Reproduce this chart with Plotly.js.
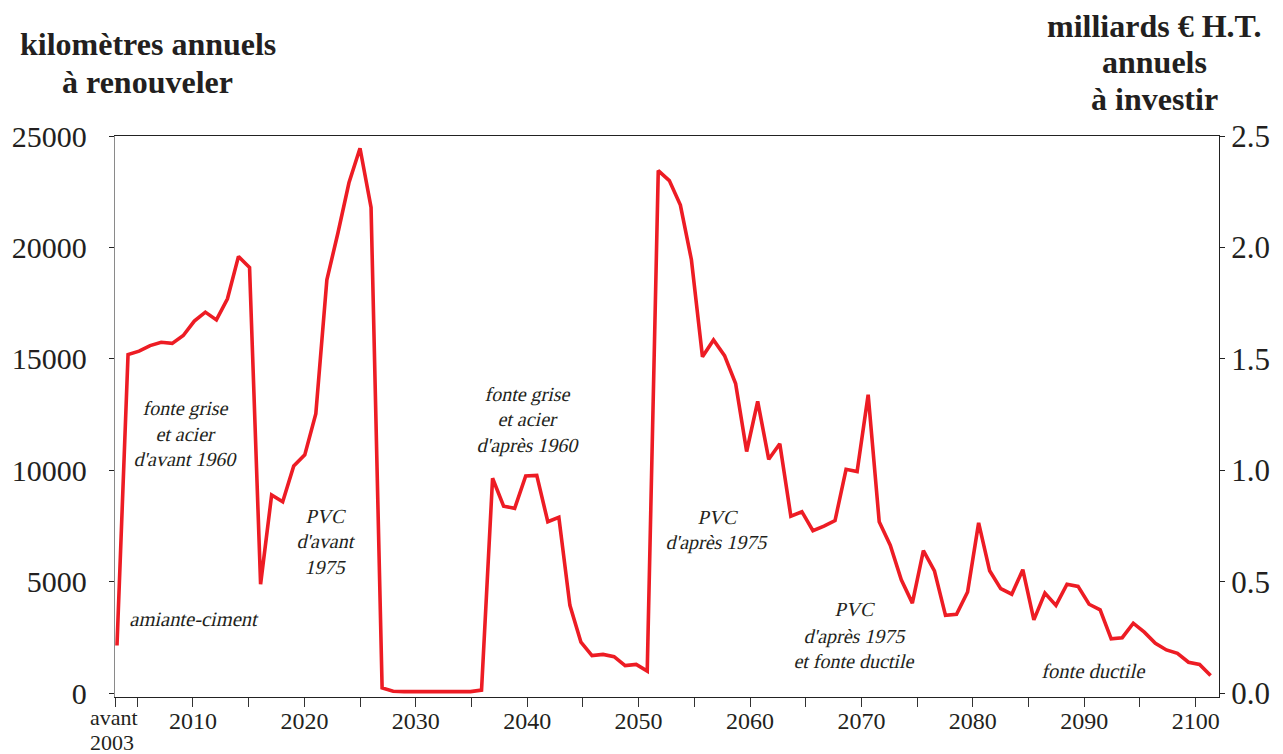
<!DOCTYPE html>
<html>
<head>
<meta charset="utf-8">
<script src="https://cdn.plot.ly/plotly-3.0.1.min.js"></script>
<style>
html,body{margin:0;padding:0;background:#fff;}
#chart{width:1283px;height:754px;}
.slant{transform-box:fill-box;transform-origin:center;transform:skewX(-13deg);}
</style>
</head>
<body>
<div id="chart"></div>
<script>
// ---- data ----
const years = [];
for (let y = 2003; y <= 2102; y++) years.push(y);
const kmPerYear = [
  2150, 15200, 15350, 15600, 15750, 15700, 16050, 16700, 17100, 16750,   // 2003-2012
  17700, 19600, 19100, 4900, 8900, 8600, 10200, 10700, 12550, 18550,     // 2013-2022
  20650, 22900, 24450, 21800, 250, 100, 80, 80, 80, 80,                  // 2023-2032
  80, 80, 80, 150, 9650, 8400, 8300, 9750, 9780, 7700,                   // 2033-2042
  7900, 3950, 2300, 1700, 1750, 1650, 1250, 1300, 1000, 23450,           // 2043-2052
  23000, 21900, 19450, 15100, 15850, 15150, 13900, 10850, 13100, 10500,  // 2053-2062
  11200, 7950, 8150, 7300, 7500, 7750, 10050, 9950, 13400, 7700,         // 2063-2072
  6650, 5100, 4050, 6400, 5500, 3500, 3550, 4550, 7650, 5500,            // 2073-2082
  4700, 4450, 5550, 3300, 4500, 3950, 4900, 4800, 4000, 3750,            // 2083-2092
  2450, 2500, 3150, 2750, 2250, 1950, 1800, 1400, 1300, 800              // 2093-2102
];
const tickYears = [2003, 2005, 2010, 2015, 2020, 2025, 2030, 2035, 2040, 2045, 2050,
                   2055, 2060, 2065, 2070, 2075, 2080, 2085, 2090, 2095, 2100];
const tickLabels = ['', '', '2010', '', '2020', '', '2030', '', '2040', '', '2050',
                    '', '2060', '', '2070', '', '2080', '', '2090', '', '2100'];
const leftTicks = [0, 5000, 10000, 15000, 20000, 25000];
const leftLabels = ['0', '5000', '10000', '15000', '20000', '25000'];
const rightTicks = [0, 0.5, 1.0, 1.5, 2.0, 2.5];
const rightLabels = ['0.0', '0.5', '1.0', '1.5', '2.0', '2.5'];

// ---- layout helpers ----
const W = 1283, H = 754, ML = 115, MR = 64, MT = 136, MB = 57;
const PW = W - ML - MR, PH = H - MT - MB;
function P(px, py) { return { x: (px - ML) / PW, y: (H - MB - py) / PH }; }
// axis ticks in the reference are drawn slightly wider apart than the data years
function tickAt(y) { return 2002.82 + (y - 2003) * 1.00851; }

const serif = 'Liberation Serif, Times New Roman, serif';
const ink = '#231f20';

function note(text, px, py, size) {
  const p = P(px, py);
  return {
    xref: 'paper', yref: 'paper', x: p.x, y: p.y, xanchor: 'center', yanchor: 'middle',
    text: text, showarrow: false,
    font: { family: serif, size: size, color: ink }
  };
}

const annotations = [
  note('<b>kilomètres annuels</b>', 148, 44, 32),
  note('<b>à renouveler</b>', 147, 82, 32),
  note('<b>milliards € H.T.</b>', 1154, 26, 32),
  note('<b>annuels</b>', 1154, 62, 32),
  note('<b>à investir</b>', 1154, 99, 32),
  note('avant', 114, 717, 22),
  note('2003', 112, 742, 22)
];
// one annotation per line so that each line can be slanted on its own
const slanted = [
  note('fonte grise', 186, 409, 20),
  note('et acier', 186, 434, 20),
  note('d\'avant 1960', 186, 459, 20),
  note('amiante-ciment', 195, 619, 20.5),
  note('PVC', 326, 516, 20),
  note('d\'avant', 326, 541, 20),
  note('1975', 326, 567, 20),
  note('fonte grise', 528, 394, 20),
  note('et acier', 528, 419, 20),
  note('d\'après 1960', 528, 445, 20),
  note('PVC', 718, 517, 20),
  note('d\'après 1975', 717, 542, 20),
  note('PVC', 855, 609, 20),
  note('d\'après 1975', 855, 636, 20),
  note('et fonte ductile', 855, 661, 20),
  note('fonte ductile', 1094, 671, 20.5)
];
const nPlain = annotations.length;

const traces = [
  {
    x: years, y: kmPerYear, type: 'scatter', mode: 'lines',
    line: { color: '#ed1c24', width: 3.6 }, hoverinfo: 'x+y', showlegend: false
  },
  {
    x: [years[0]], y: [0], yaxis: 'y2', type: 'scatter', mode: 'lines',
    line: { color: 'rgba(0,0,0,0)' }, hoverinfo: 'skip', showlegend: false
  }
];

const layout = {
  width: W, height: H,
  margin: { l: ML, r: MR, t: MT, b: MB, pad: 0 },
  paper_bgcolor: '#fff', plot_bgcolor: '#fff',
  showlegend: false,
  font: { family: serif, color: ink },
  xaxis: {
    range: [2002.82, 2102.76], tickmode: 'array',
    tickvals: tickYears.map(tickAt), ticktext: tickLabels,
    ticks: 'outside', ticklen: 9, tickwidth: 1, tickcolor: '#333',
    showline: true, linecolor: '#222', linewidth: 1, mirror: true,
    showgrid: false, zeroline: false,
    ticklabelstandoff: -7,
    tickfont: { family: serif, size: 24, color: ink }
  },
  yaxis: {
    range: [-160, 25000], tickmode: 'array', tickvals: leftTicks, ticktext: leftLabels,
    ticks: 'outside', ticklen: 5, tickwidth: 1, tickcolor: '#222',
    showline: true, linecolor: '#8a8a8a', linewidth: 1.2,
    showgrid: false, zeroline: false,
    ticklabelstandoff: 16,
    tickfont: { family: serif, size: 30, color: ink }
  },
  yaxis2: {
    overlaying: 'y', side: 'right', anchor: 'x',
    range: [-0.016, 2.5], tickmode: 'array', tickvals: rightTicks, ticktext: rightLabels,
    ticks: 'outside', ticklen: 5, tickwidth: 1, tickcolor: '#222',
    showline: true, linecolor: '#222', linewidth: 1,
    showgrid: false, zeroline: false,
    tickfont: { family: serif, size: 31, color: ink }
  },
  annotations: annotations.concat(slanted)
};

Plotly.newPlot('chart', traces, layout, { staticPlot: true, displayModeBar: false }).then(gd => {
  // the serif italic face is not installed: slant the upright serif text instead
  const texts = gd.querySelectorAll('.annotation text.annotation-text');
  texts.forEach((t, i) => { if (i >= nPlain) t.classList.add('slant'); });
});
</script>
</body>
</html>
